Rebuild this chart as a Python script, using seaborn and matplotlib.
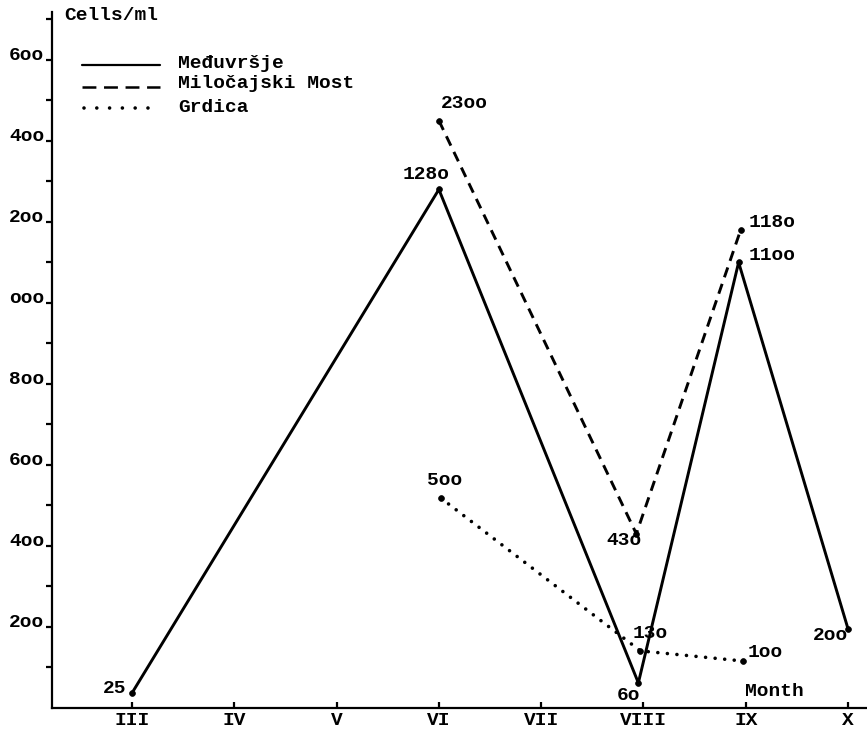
import matplotlib
matplotlib.use("Agg")
import matplotlib.pyplot as plt
import numpy as np
import pandas as pd
import seaborn as sns

# ---- data ----
months = ["III", "IV", "V", "VI", "VII", "VIII", "IX", "X"]
month_pos = [3, 4, 5, 6, 7, 8, 9, 10]

med_x = [3.0, 6.0, 7.95, 8.93, 10.0]
med_y = [37, 1280, 62, 1100, 195]
med_labels = ["25", "128o", "6o", "11oo", "2oo"]

mil_x = [6.0, 7.93, 8.95]
mil_y = [1450, 430, 1180]
mil_labels = ["23oo", "43o", "118o"]

grd_x = [6.02, 7.97, 8.97]
grd_y = [518, 141, 116]
grd_labels = ["5oo", "13o", "1oo"]

ytick_vals = [200, 400, 600, 800, 1000, 1200, 1400, 1600]
ytick_labels = ["2oo", "4oo", "6oo", "8oo", "ooo", "2oo", "4oo", "6oo"]
yminor_vals = [100, 300, 500, 700, 900, 1100, 1300, 1500, 1700]

series_names = ["Međuvršje", "Miločajski Most", "Grdica"]

# ---- style ----
sns.set_style("ticks")
plt.rcParams["font.family"] = ["Liberation Mono", "DejaVu Sans Mono"]
plt.rcParams["font.weight"] = "bold"
plt.rcParams["lines.scale_dashes"] = False
FS = 14

fig = plt.figure(figsize=(8.67, 7.31), dpi=100)
W, H = 867, 731
ax = fig.add_axes([52 / W, 23 / H, 815 / W, 696 / H])

dash_style = (0, (7.5, 5))
dot_style = (0, (0.01, 6.9))

common = dict(ax=ax, color="black", marker="o", markersize=4.2,
              markeredgecolor="black", markeredgewidth=0.5,
              sort=False, estimator=None, legend=False)

sns.lineplot(x=med_x, y=med_y, linewidth=2.1, **common)
sns.lineplot(x=mil_x, y=mil_y, linewidth=2.1, linestyle=dash_style, **common)
sns.lineplot(x=grd_x, y=grd_y, linewidth=2.6, linestyle=dot_style, **common)
ax.lines[-1].set_dash_capstyle("round")

ax.set_xlim(2.218, 10.185)
ax.set_ylim(0, 1718)

# spines
sns.despine(ax=ax)
for s in ["left", "bottom"]:
    ax.spines[s].set_linewidth(1.6)
    ax.spines[s].set_color("black")

ax.set_xticks(month_pos, months)
ax.tick_params(axis="x", direction="in", length=4, width=1.6, pad=3,
               labelsize=FS, colors="black")
ax.set_yticks(ytick_vals, ytick_labels)
ax.set_yticks(yminor_vals, minor=True)
ax.tick_params(axis="y", which="both", direction="out", length=4, width=1.6,
               pad=1.5, labelsize=FS, colors="black")
for lab in ax.get_yticklabels():
    lab.set_va("baseline")
for lab in ax.get_xticklabels() + ax.get_yticklabels():
    lab.set_fontweight("bold")
ax.set_xlabel("")
ax.set_ylabel("")

PX = 0.72  # points per pixel at 100 dpi


def label(x, y, txt, dx, dy, ha):
    ax.annotate(txt, (x, y), xytext=(dx * PX, dy * PX), textcoords="offset points",
                ha=ha, va="center", fontsize=FS, fontweight="bold", color="black")


med_off = [(-6, 5, "right"), (-13, 15, "center"), (-10, -13, "center"),
           (10, 7, "left"), (-18, -6, "center")]
mil_off = [(2, 17, "left"), (-12, -7, "center"), (8, 7, "left")]
grd_off = [(4, 18, "center"), (-8, 17, "left"), (5, 9, "left")]
for xs, ys, labs, offs in [(med_x, med_y, med_labels, med_off),
                           (mil_x, mil_y, mil_labels, mil_off),
                           (grd_x, grd_y, grd_labels, grd_off)]:
    for x, y, t, (dx, dy, ha) in zip(xs, ys, labs, offs):
        label(x, y, t, dx, dy, ha)


# legend drawn by hand
def afx(px):
    return (px - 52) / 815


def afy(py):
    return (708 - py) / 696


tr = ax.transAxes
ax.plot([afx(82), afx(160)], [afy(65), afy(65)], color="black", lw=1.6,
        transform=tr, clip_on=False)
ax.plot([afx(82), afx(160)], [afy(87), afy(87)], color="black", lw=1.8,
        linestyle=(0, (10, 5.5)), transform=tr, clip_on=False)
ld = ax.plot([afx(84), afx(158)], [afy(108), afy(108)], color="black", lw=2.6,
             linestyle=(0, (0.01, 9.2)), transform=tr, clip_on=False)[0]
ld.set_dash_capstyle("round")
for name, py in zip(series_names, [63, 83, 108]):
    ax.text(afx(178), afy(py), name, transform=tr, ha="left", va="center",
            fontsize=FS, fontweight="bold", color="black")

ax.text(afx(745), afy(692), "Month", transform=tr, ha="left", va="center",
        fontsize=FS, fontweight="bold", color="black")
fig.text(64 / W, 1 - 15 / H, "Cells/ml", ha="left", va="center",
         fontsize=FS, fontweight="bold", color="black")

fig.savefig("out.png", dpi=100)
